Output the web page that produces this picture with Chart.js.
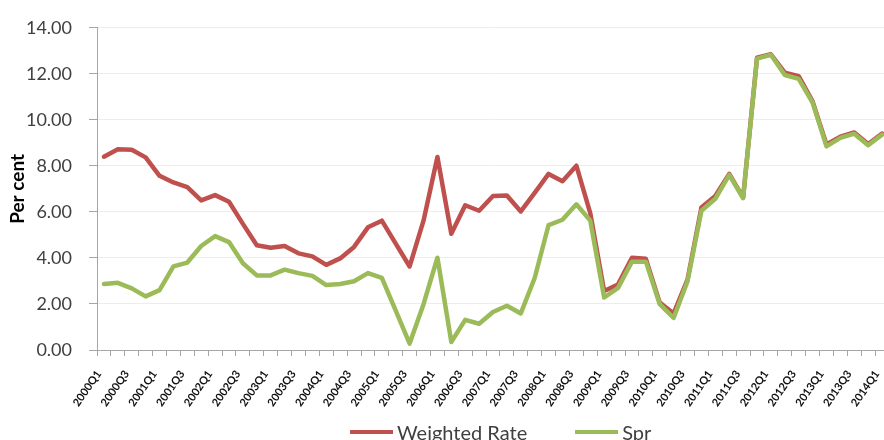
<!DOCTYPE html>
<html>
<head>
<meta charset="utf-8">
<script src="https://cdn.jsdelivr.net/npm/chart.js@4.4.1/dist/chart.umd.min.js"></script>
<style>
  html, body { margin: 0; padding: 0; background: #fff; overflow: hidden; }
  #wrap { position: relative; width: 892px; height: 440px; }
  #legend {
    position: absolute; left: 350px; top: 419px; height: 26px;
    display: flex; align-items: center;
    font-family: Lato, sans-serif; font-size: 20px; color: #404040;
    white-space: nowrap;
  }
  #legend .item { display: flex; align-items: center; }
  #legend .item + .item { margin-left: 48px; }
  #legend .swatch { display: inline-block; width: 43px; height: 4px; margin-right: 4px; }
</style>
</head>
<body>
<div id="wrap">
  <canvas id="rateChart"></canvas>
  <div id="legend"></div>
</div>
<script>
const quarters = [
  "2000Q1", "2000Q2", "2000Q3", "2000Q4", "2001Q1", "2001Q2", "2001Q3", "2001Q4",
  "2002Q1", "2002Q2", "2002Q3", "2002Q4", "2003Q1", "2003Q2", "2003Q3", "2003Q4",
  "2004Q1", "2004Q2", "2004Q3", "2004Q4", "2005Q1", "2005Q2", "2005Q3", "2005Q4",
  "2006Q1", "2006Q2", "2006Q3", "2006Q4", "2007Q1", "2007Q2", "2007Q3", "2007Q4",
  "2008Q1", "2008Q2", "2008Q3", "2008Q4", "2009Q1", "2009Q2", "2009Q3", "2009Q4",
  "2010Q1", "2010Q2", "2010Q3", "2010Q4", "2011Q1", "2011Q2", "2011Q3", "2011Q4",
  "2012Q1", "2012Q2", "2012Q3", "2012Q4", "2013Q1", "2013Q2", "2013Q3", "2013Q4",
  "2014Q1",
];

const weightedRate = [
  8.40, 8.72, 8.70, 8.37, 7.57, 7.28, 7.08, 6.50, 6.73, 6.44,
  5.48, 4.55, 4.44, 4.52, 4.20, 4.07, 3.70, 3.98, 4.48, 5.33,
  5.62, 4.62, 3.63, 5.62, 8.39, 5.05, 6.29, 6.05, 6.69, 6.71,
  6.02, 6.83, 7.65, 7.33, 8.01, 5.95, 2.56, 2.85, 4.01, 3.96,
  2.06, 1.59, 3.06, 6.19, 6.69, 7.65, 6.62, 12.70, 12.85, 12.05,
  11.90, 10.80, 8.93, 9.27, 9.45, 8.95, 9.40,
];

const spr = [
  2.87, 2.92, 2.68, 2.33, 2.60, 3.63, 3.80, 4.52, 4.95, 4.69,
  3.77, 3.24, 3.24, 3.49, 3.34, 3.22, 2.82, 2.87, 2.99, 3.34,
  3.13, 1.71, 0.28, 1.99, 4.01, 0.35, 1.31, 1.14, 1.65, 1.92,
  1.59, 3.13, 5.43, 5.66, 6.33, 5.62, 2.28, 2.70, 3.84, 3.84,
  1.99, 1.39, 2.99, 6.05, 6.57, 7.61, 6.60, 12.66, 12.83, 11.95,
  11.78, 10.75, 8.85, 9.22, 9.40, 8.90, 9.36,
];

const yTicks = [0, 2, 4, 6, 8, 10, 12, 14];

const axisGrey = "#a6a6a6";

const lineStyle = {
  borderWidth: 4.5,
  pointRadius: 0,
  pointHoverRadius: 0,
  tension: 0,
  borderJoinStyle: "round",
  borderCapStyle: "round",
  fill: false,
};

const rateCtx = document.getElementById("rateChart");
const rateChart = new Chart(rateCtx, {
  type: "line",
  data: {
    labels: quarters,
    datasets: [
      {
        ...lineStyle,
        label: "Weighted Rate",
        data: weightedRate,
        borderColor: "#c0504d",
        backgroundColor: "#c0504d",
        order: 2,
      },
      {
        ...lineStyle,
        label: "Spr",
        data: spr,
        borderColor: "#9bbb59",
        backgroundColor: "#9bbb59",
        order: 1,
      },
    ],
  },
  options: {
    responsive: true,
    maintainAspectRatio: false,
    animation: false,
    layout: { padding: { top: 22, left: 6, right: 3, bottom: 0 } },
    scales: {
      x: {
        offset: true,
        afterFit: (axis) => {
          axis.height = 90;
          // keep the plot running right up to the edge like the original
          axis.paddingLeft = 0;
          axis.paddingRight = 0;
        },
        grid: {
          display: true,
          drawOnChartArea: false,
          offset: true,
          tickLength: 6,
          color: axisGrey,
        },
        border: { color: axisGrey, width: 1 },
        ticks: {
          autoSkip: false,
          maxRotation: 55,
          minRotation: 55,
          padding: 12,
          labelOffset: -5,
          color: "#111",
          font: { family: "Lato", weight: "bold", size: 11 },
          callback: (value, index) => (index % 2 === 0 ? quarters[index] : ""),
        },
      },
      y: {
        min: yTicks[0],
        max: yTicks[yTicks.length - 1],
        afterBuildTicks: (axis) => {
          axis.ticks = yTicks.map((v) => ({ value: v }));
        },
        afterFit: (axis) => {
          axis.width = 91;
        },
        grid: {
          color: "#ededed",
          tickColor: axisGrey,
          tickLength: 8,
        },
        border: { color: axisGrey, width: 1 },
        ticks: {
          padding: 17,
          color: "#404040",
          font: { family: "Lato", size: 18 },
          callback: (value) => Number(value).toFixed(2),
        },
        title: {
          display: true,
          text: "Per cent",
          color: "#000",
          padding: 0,
          font: { family: "Lato", weight: "bold", size: 19 },
        },
      },
    },
    plugins: {
      legend: { display: false },
      tooltip: { enabled: false },
    },
  },
});

// legend drawn as html so the gap between the two entries can match
const legendBox = document.getElementById("legend");
rateChart.data.datasets.forEach((ds) => {
  const item = document.createElement("span");
  item.className = "item";
  const swatch = document.createElement("span");
  swatch.className = "swatch";
  swatch.style.background = ds.borderColor;
  item.appendChild(swatch);
  item.appendChild(document.createTextNode(ds.label));
  legendBox.appendChild(item);
});
</script>
</body>
</html>
